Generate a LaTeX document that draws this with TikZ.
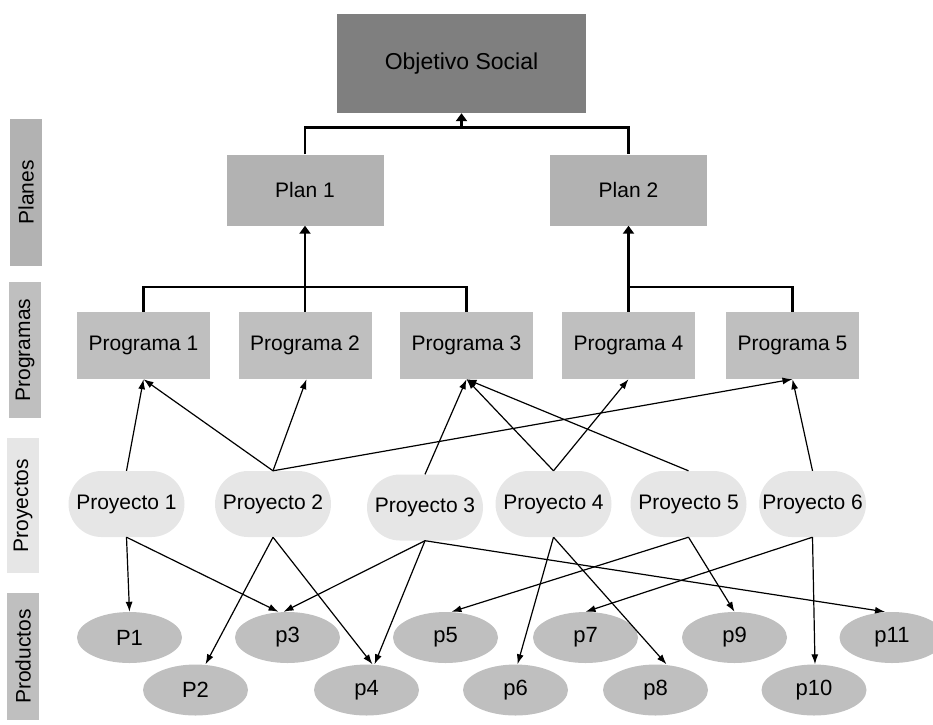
\documentclass[tikz,border=0pt]{standalone}
\usepackage{fontspec}
\setmainfont{Liberation Sans}
\usetikzlibrary{arrows.meta,shapes.geometric}
\definecolor{objgray}{HTML}{7F7F7F}
\definecolor{plangray}{HTML}{B2B2B2}
\definecolor{proggray}{HTML}{BFBFBF}
\definecolor{proygray}{HTML}{E6E6E6}
\definecolor{prodgray}{HTML}{BFBFBF}
\begin{document}
\begin{tikzpicture}[x=1pt,y=-1pt,
  txt/.style={font=\fontsize{21}{25}\selectfont, text=black},
  objbox/.style={rectangle, fill=objgray, inner sep=0pt, minimum width=249pt, minimum height=99pt, font=\fontsize{23}{27}\selectfont},
  planbox/.style={rectangle, fill=plangray, inner sep=0pt, minimum width=157pt, minimum height=71pt, txt},
  progbox/.style={rectangle, fill=proggray, inner sep=0pt, minimum width=133pt, minimum height=67pt, txt},
  proybox/.style={rectangle, rounded corners=33pt, fill=proygray, inner sep=0pt, minimum width=116pt, minimum height=66pt, txt},
  prodell/.style={ellipse, fill=prodgray, inner sep=0pt, minimum width=105pt, minimum height=51pt, font=\fontsize{22}{26}\selectfont},
  sidelabel/.style={rectangle, inner sep=0pt, rotate=90, minimum height=32pt, txt},
  thickconn/.style={line width=2.1pt},
  thickarrow/.style={line width=2.1pt, -{Triangle[length=8pt,width=11pt]}},
  thinarrow/.style={line width=1.2pt, -{Latex[length=10pt,width=7pt]}}
]
\useasboundingbox (0,0) rectangle (933,724);
\clip (0,0) rectangle (933,724);

% side labels
\node[sidelabel, fill=plangray, minimum width=147pt] (lplanes) at (26,192.5) {Planes};
\node[sidelabel, fill=proggray, minimum width=136pt] (lprog) at (25,350) {Programas};
\node[sidelabel, fill=proygray, minimum width=135pt] (lproy) at (23,505.5) {Proyectos};
\node[sidelabel, fill=prodgray, minimum width=127pt] (lprod) at (23,656.5) {Productos};

% top
\node[objbox] (obj) at (461.5,63.5) {Objetivo Social};
\node[planbox] (plan1) at (305,190) {Plan 1};
\node[planbox] (plan2) at (628.5,190) {Plan 2};

% programas
\node[progbox] (prog1) at (143.5,345.5) {Programa 1};
\node[progbox] (prog2) at (305,345.5) {Programa 2};
\node[progbox] (prog3) at (466.5,345.5) {Programa 3};
\node[progbox] (prog4) at (628.5,345.5) {Programa 4};
\node[progbox] (prog5) at (792.5,345.5) {Programa 5};

% proyectos
\node[proybox] (proy1) at (126.5,504) {Proyecto 1};
\node[proybox] (proy2) at (273,504) {Proyecto 2};
\node[proybox] (proy3) at (425,507.5) {Proyecto 3};
\node[proybox] (proy4) at (553.5,504) {Proyecto 4};
\node[proybox] (proy5) at (688.5,504) {Proyecto 5};
\node[proybox, minimum width=107pt] (proy6) at (812.5,504) {Proyecto 6};

% productos
\node[prodell] (pr1) at (129.5,637.5) {P1};
\node[prodell] (pr3) at (287.5,637.5) {p3};
\node[prodell] (pr5) at (445.5,637.5) {p5};
\node[prodell] (pr7) at (585.5,637.5) {p7};
\node[prodell] (pr9) at (734.5,637.5) {p9};
\node[prodell] (pr11) at (892,637.5) {p11};
\node[prodell] (pr2) at (195.5,690) {P2};
\node[prodell] (pr4) at (366.5,690) {p4};
\node[prodell] (pr6) at (515.5,690) {p6};
\node[prodell] (pr8) at (655.5,690) {p8};
\node[prodell] (pr10) at (814,690) {p10};

% hierarchy connectors
\coordinate (topbar) at (461.5,127.5);
\draw[thickconn] (plan1.north) |- (topbar) -| (plan2.north);
\draw[thickarrow] (topbar) -- (obj.south);

\coordinate (bar1) at (305,287);
\draw[thickconn] (prog1.north) |- (bar1) -| (prog3.north);
\draw[thickconn] (prog2.north) -- (bar1);
\draw[thickarrow] (bar1) -- (plan1.south);

\coordinate (bar2) at (628.5,287);
\draw[thickconn] (prog4.north) -- (bar2) -| (prog5.north);
\draw[thickarrow] (bar2) -- (plan2.south);

% proyectos -> programas
\draw[thinarrow] (proy1.north) -- (prog1.south);
\draw[thinarrow] (proy2.north) -- (prog1.south);
\draw[thinarrow] (proy2.north) -- ([xshift=1.5pt]prog2.south);
\draw[thinarrow] (proy2.north) -- (prog5.south);
\draw[thinarrow] (proy3.north) -- (prog3.south);
\draw[thinarrow] (proy4.north) -- (prog3.south);
\draw[thinarrow] (proy4.north) -- (prog4.south);
\draw[thinarrow] (proy5.north) -- (prog3.south);
\draw[thinarrow] (proy6.north) -- (prog5.south);

% proyectos -> productos
\draw[thinarrow] (proy1.south) -- (pr1.north);
\draw[thinarrow] (proy1.south) -- ([xshift=-9pt]pr3.north);
\draw[thinarrow] (proy2.south) -- ([xshift=10pt]pr2.north);
\draw[thinarrow] (proy2.south) -- ([xshift=6pt]pr4.north);
\draw[thinarrow] (proy3.south) -- ([xshift=-4pt]pr3.north);
\draw[thinarrow] (proy3.south) -- ([xshift=8pt]pr4.north);
\draw[thinarrow] (proy3.south) -- ([xshift=-7pt]pr11.north);
\draw[thinarrow] (proy4.south) -- ([xshift=2pt]pr6.north);
\draw[thinarrow] (proy4.south) -- ([xshift=11pt]pr8.north);
\draw[thinarrow] (proy5.south) -- ([xshift=6pt]pr5.north);
\draw[thinarrow] (proy5.south) -- ([xshift=0pt]pr9.north);
\draw[thinarrow] (proy6.south) -- ([xshift=0pt]pr7.north);
\draw[thinarrow] (proy6.south) -- ([xshift=1pt]pr10.north);
\end{tikzpicture}
\end{document}
